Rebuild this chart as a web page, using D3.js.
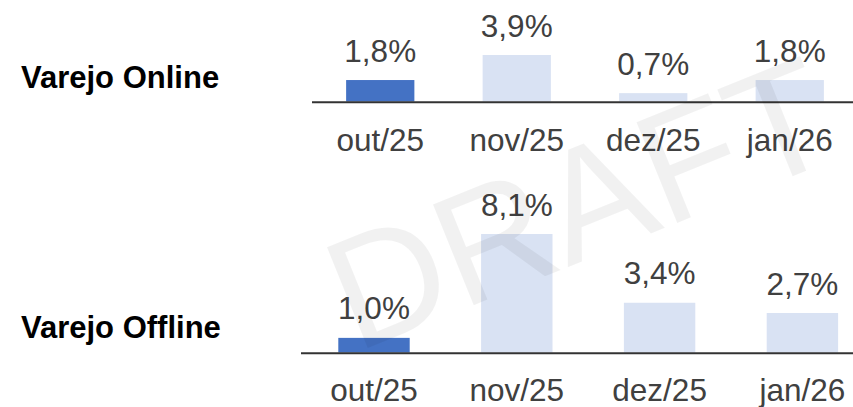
<!DOCTYPE html>
<html>
<head>
<meta charset="utf-8">
<script src="https://cdn.jsdelivr.net/npm/d3@7"></script>
<style>
  html, body { margin: 0; padding: 0; background: #fff; }
  svg { display: block; }
  text { font-family: "Liberation Sans", Arial, sans-serif; }
</style>
</head>
<body>
<svg id="chart" width="853" height="407"></svg>
<script>
// ---- Data ----
const categories = ["out/25", "nov/25", "dez/25", "jan/26"];
const panelTitles = ["Varejo Online", "Varejo Offline"];
const onlineValues = [1.8, 3.9, 0.7, 1.8];
const offlineValues = [1.0, 8.1, 3.4, 2.7];
const highlightIndex = 0;
const watermarkText = "DRAFT";

const fmt = v => d3.format(".1f")(v).replace(".", ",") + "%";

const svg = d3.select("#chart");
const W = 853, H = 407;

const panels = [
  { title: panelTitles[0], values: onlineValues, titleY: 88,
    x0: 312, x1: 858, base: 101.5, topPx: 55, axisY: 102.3, lineStart: 312, labelY: 151 },
  { title: panelTitles[1], values: offlineValues, titleY: 338,
    x0: 302.6, x1: 873.8, base: 352.5, topPx: 234, axisY: 353.3, lineStart: 301, labelY: 401 }
];

const dark = "#4472C4", light = "#D9E2F3", txt = "#404040";

panels.forEach(p => {
  const g = svg.append("g");
  const x = d3.scaleBand().domain(categories).range([p.x0, p.x1])
    .paddingInner(0.5).paddingOuter(0.25);
  const y = d3.scaleLinear().domain([0, d3.max(p.values)]).range([p.base, p.topPx]);

  g.append("text")
    .attr("x", 21).attr("y", p.titleY)
    .attr("font-size", 31).attr("font-weight", "bold").attr("fill", "#000")
    .text(p.title);

  g.selectAll("rect.bar").data(p.values).join("rect")
    .attr("class", "bar")
    .attr("x", (d, i) => x(categories[i]))
    .attr("width", x.bandwidth())
    .attr("y", d => y(d))
    .attr("height", d => p.base - y(d))
    .attr("fill", (d, i) => i === highlightIndex ? dark : light);

  g.selectAll("text.val").data(p.values).join("text")
    .attr("class", "val")
    .attr("x", (d, i) => x(categories[i]) + x.bandwidth() / 2)
    .attr("y", d => y(d) - 18.5)
    .attr("text-anchor", "middle")
    .attr("font-size", 31.5).attr("fill", txt)
    .text(d => fmt(d));

  // baseline axis
  const axis = d3.axisBottom(x).tickSize(0).tickPadding(0);
  const ag = g.append("g").attr("transform", `translate(0,${p.axisY})`).call(axis);
  ag.select(".domain").attr("d", `M${p.lineStart},0H${W + 10}`)
    .attr("stroke", "#333").attr("stroke-width", 2);
  ag.selectAll(".tick text")
    .attr("y", p.labelY - p.axisY).attr("dy", 0)
    .attr("font-size", 31.5).attr("fill", txt)
    .attr("font-family", "'Liberation Sans', Arial, sans-serif");
});

// watermark
svg.append("text")
  .attr("transform", "translate(600,254) rotate(-22)")
  .attr("text-anchor", "middle")
  .attr("font-size", 158)
  .attr("font-family", "'Liberation Sans', Arial, sans-serif")
  .attr("fill", "#000").attr("fill-opacity", 0.055)
  .text(watermarkText);
</script>
</body>
</html>
